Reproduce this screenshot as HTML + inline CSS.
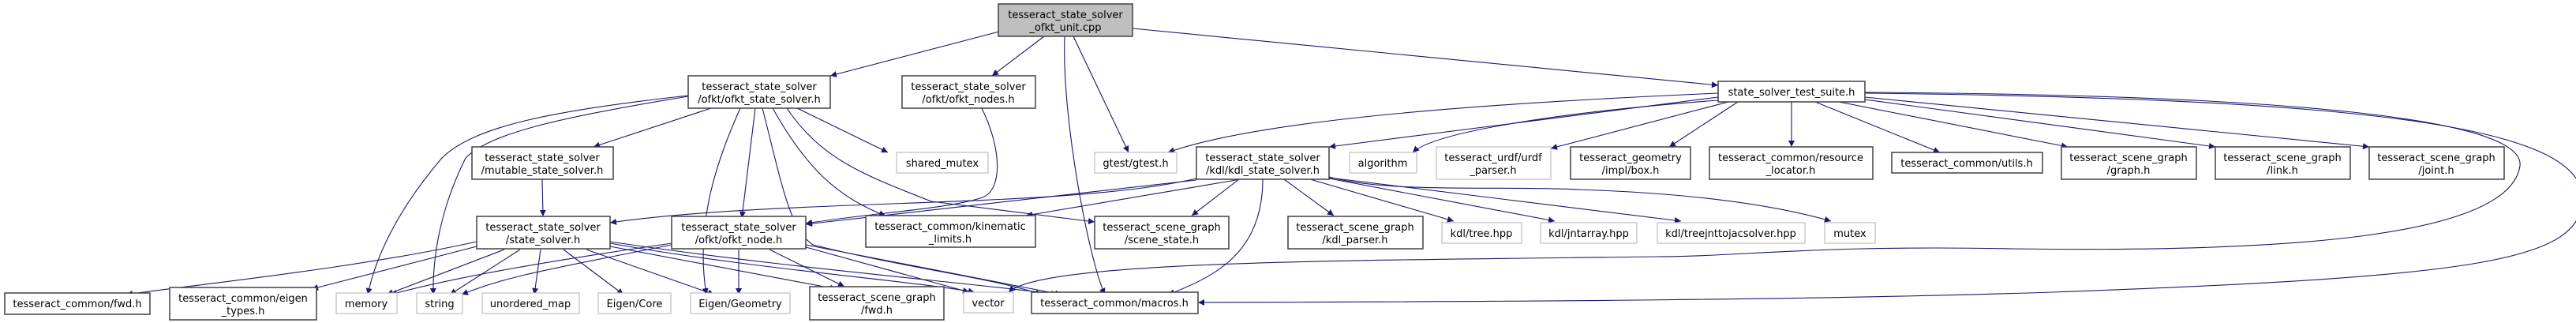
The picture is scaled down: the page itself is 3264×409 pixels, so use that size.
<!DOCTYPE html>
<html><head><meta charset="utf-8"><style>
html,body{margin:0;padding:0;background:#fff;}
svg{display:block;}
text{font-family:"DejaVu Sans","Liberation Sans",sans-serif;font-size:13px;fill:#000;}
.n{fill:#fff;stroke:#404040;stroke-width:1.5;}
.g{fill:#fff;stroke:#bfbfbf;stroke-width:1.2;}
.r{fill:#bfbfbf;stroke:#404040;stroke-width:1.5;}
.e{fill:none;stroke:#191970;stroke-width:1.1;}
</style></head><body>
<svg width="3264" height="409" viewBox="0 0 3264 409" xmlns="http://www.w3.org/2000/svg">
<defs><marker id="a" viewBox="0 0 10 10" refX="10" refY="5" markerWidth="10" markerHeight="8" markerUnits="userSpaceOnUse" orient="auto"><path d="M0,0 L10,5 L0,10 z" fill="#191970"/></marker></defs>
<g class="e" marker-end="url(#a)">
<!-- root -->
<path d="M1266,40 L1052,96"/>
<path d="M1323,46 L1257,96"/>
<path d="M1349,46 C1345,150 1380,330 1400,373"/>
<path d="M1360,46 L1430,193"/>
<path d="M1435,36 L2177,108"/>
<!-- ofkt_state_solver -->
<path d="M901,137 L752,186"/>
<path d="M872,121 C700,140 600,160 560,200 C500,270 475,330 466,373"/>
<path d="M872,122 C700,150 620,170 590,200 C560,260 548,320 549,373"/>
<path d="M938,137 C910,200 880,280 895,373"/>
<path d="M957,137 L940,276"/>
<path d="M966,137 C990,230 1000,290 1030,310 C1150,340 1250,350 1320,373"/>
<path d="M979,137 C1020,210 1060,250 1122,273"/>
<path d="M997,137 C1040,200 1090,220 1180,255 L1387,281"/>
<path d="M1010,137 L1125,193"/>
<path d="M687,227 L688,274"/>
<path d="M1244,137 C1270,190 1270,240 1245,250 C1200,265 1100,270 1021,283"/>
<!-- state_solver -->
<path d="M604,306 C450,340 250,360 160,373"/>
<path d="M604,312 L395,366"/>
<path d="M639,316 L490,373"/>
<path d="M659,316 L570,373"/>
<path d="M685,316 L677,373"/>
<path d="M714,316 L790,373"/>
<path d="M743,316 L905,373"/>
<path d="M773,312 L1060,366"/>
<path d="M773,308 C950,340 1150,355 1235,370"/>
<path d="M773,306 C1000,340 1250,360 1340,373"/>
<!-- ofkt_node -->
<path d="M851,308 C700,330 580,350 495,373"/>
<path d="M851,310 C700,340 640,350 585,373"/>
<path d="M936,316 L936,373"/>
<path d="M975,316 L1070,363"/>
<path d="M1021,313 L1228,370"/>
<path d="M1021,310 L1345,373"/>
<!-- kdl_state_solver -->
<path d="M1516,226 C1350,265 1000,250 773,282"/>
<path d="M1516,228 L1021,284"/>
<path d="M1572,227 L1300,273"/>
<path d="M1570,227 L1510,273"/>
<path d="M1600,227 C1600,320 1540,350 1480,373"/>
<path d="M1627,227 L1690,273"/>
<path d="M1660,227 L1842,280"/>
<path d="M1684,226 L1970,280"/>
<path d="M1684,225 L2130,280"/>
<path d="M1684,224 C1760,245 1900,235 2000,240 C2150,245 2250,260 2320,280"/>
<!-- test suite -->
<path d="M2177,118 C1900,130 1600,150 1480,193"/>
<path d="M2177,123 L1684,186"/>
<path d="M2177,127 C2000,140 1820,165 1790,193"/>
<path d="M2190,129 L1965,188"/>
<path d="M2202,129 L2115,186"/>
<path d="M2270,129 L2270,186"/>
<path d="M2300,129 L2458,193"/>
<path d="M2330,129 L2620,186"/>
<path d="M2363,126 L2807,186"/>
<path d="M2363,123 L3002,186"/>
<path d="M2363,117 C2900,120 3200,150 3193,210 C3180,300 2900,320 2550,315 C2300,310 2200,325 2100,325 C1700,330 1320,330 1278,370"/>
<path d="M2363,118 C3000,125 3270,160 3272,250 C3272,330 3150,350 2600,370 C2300,380 1900,382 1518,383"/>
</g>
<!-- nodes -->
<rect class="r" x="1265" y="5" width="170" height="41"/>
<text x="1350" y="23" text-anchor="middle">tesseract_state_solver</text>
<text x="1350" y="39" text-anchor="middle">_ofkt_unit.cpp</text>

<rect class="n" x="872" y="96" width="180" height="41"/>
<text x="962" y="114" text-anchor="middle">tesseract_state_solver</text>
<text x="962" y="130" text-anchor="middle">/ofkt/ofkt_state_solver.h</text>

<rect class="n" x="1143" y="96" width="169" height="41"/>
<text x="1227" y="114" text-anchor="middle">tesseract_state_solver</text>
<text x="1227" y="130" text-anchor="middle">/ofkt/ofkt_nodes.h</text>

<rect class="n" x="2177" y="103" width="186" height="26"/>
<text x="2270" y="121" text-anchor="middle">state_solver_test_suite.h</text>

<rect class="n" x="598" y="186" width="179" height="41"/>
<text x="687" y="204" text-anchor="middle">tesseract_state_solver</text>
<text x="687" y="220" text-anchor="middle">/mutable_state_solver.h</text>

<rect class="g" x="1136" y="193" width="116" height="26"/>
<text x="1194" y="211" text-anchor="middle">shared_mutex</text>
<rect class="g" x="1387" y="193" width="104" height="26"/>
<text x="1439" y="211" text-anchor="middle">gtest/gtest.h</text>

<rect class="n" x="1516" y="186" width="168" height="41"/>
<text x="1600" y="204" text-anchor="middle">tesseract_state_solver</text>
<text x="1600" y="220" text-anchor="middle">/kdl/kdl_state_solver.h</text>

<rect class="g" x="1710" y="193" width="85" height="26"/>
<text x="1752" y="211" text-anchor="middle">algorithm</text>
<rect class="g" x="1820" y="186" width="145" height="41"/>
<text x="1892" y="204" text-anchor="middle">tesseract_urdf/urdf</text>
<text x="1892" y="220" text-anchor="middle">_parser.h</text>
<rect class="n" x="1990" y="186" width="152" height="41"/>
<text x="2066" y="204" text-anchor="middle">tesseract_geometry</text>
<text x="2066" y="220" text-anchor="middle">/impl/box.h</text>
<rect class="n" x="2166" y="186" width="207" height="41"/>
<text x="2269" y="204" text-anchor="middle">tesseract_common/resource</text>
<text x="2269" y="220" text-anchor="middle">_locator.h</text>
<rect class="n" x="2397" y="193" width="191" height="26"/>
<text x="2492" y="211" text-anchor="middle">tesseract_common/utils.h</text>
<rect class="n" x="2612" y="186" width="171" height="41"/>
<text x="2697" y="204" text-anchor="middle">tesseract_scene_graph</text>
<text x="2697" y="220" text-anchor="middle">/graph.h</text>
<rect class="n" x="2807" y="186" width="171" height="41"/>
<text x="2892" y="204" text-anchor="middle">tesseract_scene_graph</text>
<text x="2892" y="220" text-anchor="middle">/link.h</text>
<rect class="n" x="3002" y="186" width="171" height="41"/>
<text x="3087" y="204" text-anchor="middle">tesseract_scene_graph</text>
<text x="3087" y="220" text-anchor="middle">/joint.h</text>

<rect class="n" x="604" y="274" width="169" height="41"/>
<text x="688" y="292" text-anchor="middle">tesseract_state_solver</text>
<text x="688" y="308" text-anchor="middle">/state_solver.h</text>
<rect class="n" x="851" y="274" width="170" height="41"/>
<text x="936" y="292" text-anchor="middle">tesseract_state_solver</text>
<text x="936" y="308" text-anchor="middle">/ofkt/ofkt_node.h</text>
<rect class="n" x="1097" y="273" width="215" height="40"/>
<text x="1204" y="291" text-anchor="middle">tesseract_common/kinematic</text>
<text x="1204" y="307" text-anchor="middle">_limits.h</text>
<rect class="n" x="1387" y="274" width="170" height="41"/>
<text x="1472" y="292" text-anchor="middle">tesseract_scene_graph</text>
<text x="1472" y="308" text-anchor="middle">/scene_state.h</text>
<rect class="n" x="1632" y="274" width="171" height="41"/>
<text x="1717" y="292" text-anchor="middle">tesseract_scene_graph</text>
<text x="1717" y="308" text-anchor="middle">/kdl_parser.h</text>
<rect class="g" x="1827" y="282" width="101" height="26"/>
<text x="1877" y="300" text-anchor="middle">kdl/tree.hpp</text>
<rect class="g" x="1952" y="282" width="122" height="26"/>
<text x="2013" y="300" text-anchor="middle">kdl/jntarray.hpp</text>
<rect class="g" x="2100" y="282" width="187" height="26"/>
<text x="2193" y="300" text-anchor="middle">kdl/treejnttojacsolver.hpp</text>
<rect class="g" x="2312" y="282" width="64" height="26"/>
<text x="2344" y="300" text-anchor="middle">mutex</text>

<rect class="n" x="6" y="371" width="184" height="27"/>
<text x="98" y="389" text-anchor="middle">tesseract_common/fwd.h</text>
<rect class="n" x="215" y="364" width="186" height="41"/>
<text x="308" y="382" text-anchor="middle">tesseract_common/eigen</text>
<text x="308" y="398" text-anchor="middle">_types.h</text>
<rect class="g" x="426" y="371" width="77" height="26"/>
<text x="464" y="389" text-anchor="middle">memory</text>
<rect class="g" x="528" y="371" width="58" height="26"/>
<text x="557" y="389" text-anchor="middle">string</text>
<rect class="g" x="611" y="371" width="123" height="26"/>
<text x="672" y="389" text-anchor="middle">unordered_map</text>
<rect class="g" x="758" y="371" width="92" height="26"/>
<text x="804" y="389" text-anchor="middle">Eigen/Core</text>
<rect class="g" x="875" y="371" width="126" height="26"/>
<text x="938" y="389" text-anchor="middle">Eigen/Geometry</text>
<rect class="n" x="1026" y="363" width="170" height="42"/>
<text x="1111" y="381" text-anchor="middle">tesseract_scene_graph</text>
<text x="1111" y="397" text-anchor="middle">/fwd.h</text>
<rect class="g" x="1221" y="370" width="63" height="26"/>
<text x="1252" y="388" text-anchor="middle">vector</text>
<rect class="n" x="1307" y="370" width="211" height="27"/>
<text x="1412" y="388" text-anchor="middle">tesseract_common/macros.h</text>
</svg>
</body></html>
